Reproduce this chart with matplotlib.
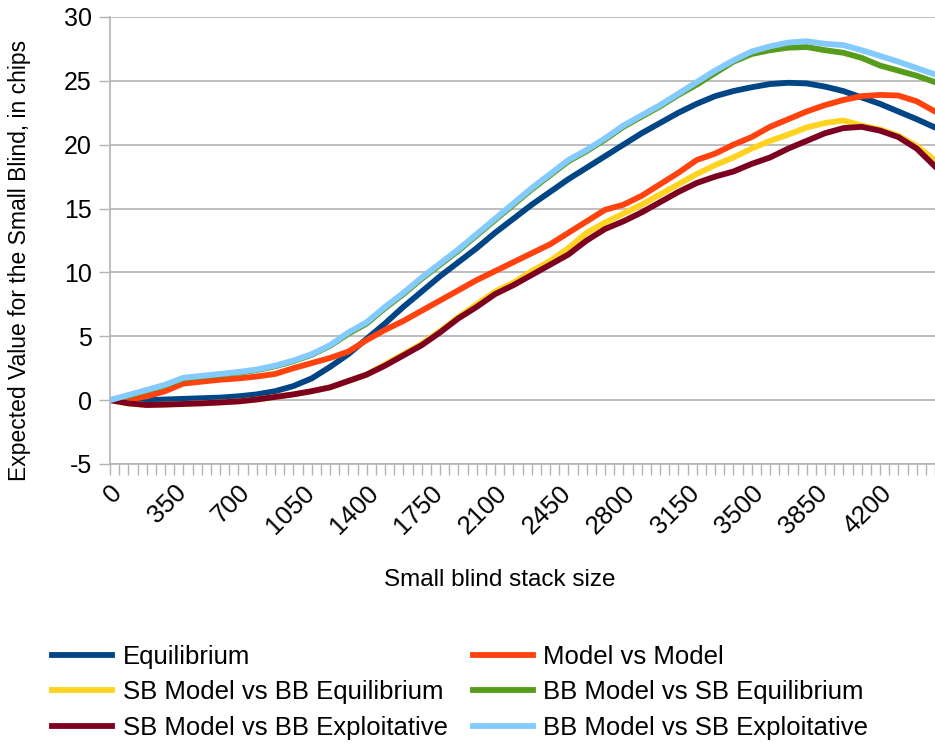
import matplotlib
matplotlib.use("Agg")
import matplotlib.pyplot as plt
import matplotlib.transforms as mtransforms
from matplotlib.ticker import MultipleLocator
import numpy as np

plt.rcParams['font.family'] = ['Liberation Sans', 'DejaVu Sans']
plt.rcParams['axes.unicode_minus'] = False

# small blind stack size, sampled every 100 chips
stack = list(range(0, 4600, 100))

equilibrium = [0.0, 0.0, 0.0, 0.05, 0.1, 0.15, 0.2, 0.3, 0.45, 0.7,
               1.1, 1.7, 2.6, 3.6, 4.8, 6.0, 7.3, 8.5, 9.7, 10.8,
               11.9, 13.1, 14.2, 15.3, 16.3, 17.3, 18.2, 19.1, 20.0, 20.9,
               21.7, 22.5, 23.2, 23.8, 24.2, 24.5, 24.75, 24.85, 24.8, 24.55,
               24.2, 23.7, 23.2, 22.6, 22.0, 21.35]

model_vs_model = [0.0, 0.05, 0.3, 0.7, 1.3, 1.45, 1.6, 1.7, 1.85, 2.05,
                  2.5, 2.9, 3.3, 3.8, 4.7, 5.5, 6.2, 7.0, 7.8, 8.6,
                  9.4, 10.1, 10.8, 11.5, 12.2, 13.1, 14.0, 14.9, 15.3, 16.0,
                  16.9, 17.8, 18.8, 19.3, 20.0, 20.6, 21.4, 22.0, 22.6, 23.1,
                  23.5, 23.8, 23.9, 23.85, 23.4, 22.6]

sb_model_bb_eq = [0.0, -0.25, -0.38, -0.35, -0.3, -0.25, -0.18, -0.1, 0.05, 0.25,
                  0.45, 0.7, 1.0, 1.5, 2.0, 2.8, 3.6, 4.4, 5.4, 6.5,
                  7.5, 8.5, 9.2, 10.1, 10.9, 11.9, 13.1, 13.9, 14.6, 15.3,
                  16.1, 16.9, 17.7, 18.4, 19.0, 19.7, 20.3, 20.8, 21.35, 21.7,
                  21.9, 21.5, 21.2, 20.7, 19.9, 18.8]

bb_model_sb_eq = [0.0, 0.35, 0.75, 1.15, 1.7, 1.85, 2.0, 2.15, 2.35, 2.65,
                  3.05, 3.55, 4.25, 5.2, 6.0, 7.2, 8.3, 9.5, 10.6, 11.7,
                  12.9, 14.1, 15.3, 16.5, 17.6, 18.7, 19.5, 20.4, 21.4, 22.2,
                  23.0, 23.9, 24.7, 25.6, 26.5, 27.1, 27.4, 27.6, 27.65, 27.4,
                  27.2, 26.8, 26.2, 25.8, 25.4, 24.9]

sb_model_bb_expl = [0.0, -0.25, -0.38, -0.35, -0.3, -0.25, -0.18, -0.1, 0.05, 0.25,
                    0.45, 0.7, 1.0, 1.5, 2.0, 2.7, 3.5, 4.3, 5.3, 6.4,
                    7.3, 8.3, 9.0, 9.8, 10.6, 11.4, 12.5, 13.4, 14.0, 14.7,
                    15.5, 16.3, 17.0, 17.5, 17.9, 18.5, 19.0, 19.7, 20.3, 20.9,
                    21.3, 21.4, 21.1, 20.6, 19.7, 18.3]

bb_model_sb_expl = [0.0, 0.4, 0.8, 1.2, 1.75, 1.9, 2.05, 2.2, 2.4, 2.7,
                    3.1, 3.6, 4.3, 5.3, 6.1, 7.3, 8.4, 9.6, 10.7, 11.8,
                    13.0, 14.2, 15.4, 16.6, 17.7, 18.8, 19.6, 20.5, 21.5, 22.3,
                    23.1, 24.0, 24.9, 25.8, 26.6, 27.3, 27.7, 28.0, 28.1, 27.9,
                    27.8, 27.4, 26.95, 26.5, 26.0, 25.5]

series = [
    ("Equilibrium", equilibrium, "#004586"),
    ("Model vs Model", model_vs_model, "#ff420e"),
    ("SB Model vs BB Equilibrium", sb_model_bb_eq, "#ffd320"),
    ("BB Model vs SB Equilibrium", bb_model_sb_eq, "#579d1c"),
    ("SB Model vs BB Exploitative", sb_model_bb_expl, "#7e0021"),
    ("BB Model vs SB Exploitative", bb_model_sb_expl, "#83caff"),
]

GRID = '#b3b3b3'

fig = plt.figure(figsize=(9.35, 7.47), dpi=100)
ax = fig.add_axes([110 / 935, 1 - 464 / 747, 825 / 935, 447 / 747])

for name, vals, col in series:
    ax.plot(stack, vals, color=col, lw=4.2, label=name, solid_joinstyle='round')

ax.set_xlim(0, 4500)
ax.set_ylim(-5, 30)
ax.yaxis.set_major_locator(MultipleLocator(5))
ax.xaxis.set_major_locator(MultipleLocator(350))
ax.xaxis.set_minor_locator(MultipleLocator(50))
ax.grid(axis='y', color=GRID, lw=1.2)
ax.set_axisbelow(True)

for s in ['top', 'right']:
    ax.spines[s].set_visible(False)
for s in ['left', 'bottom']:
    ax.spines[s].set_color(GRID)
    ax.spines[s].set_linewidth(1.2)

ax.tick_params(axis='both', which='both', direction='out', length=8, width=1, color=GRID)
ax.tick_params(axis='y', labelsize=18, pad=5)
ax.tick_params(axis='x', labelsize=18.5, pad=10)
shift = mtransforms.ScaledTranslation(8 / 100, 0, fig.dpi_scale_trans)
for lab in ax.get_xticklabels():
    lab.set_rotation(45)
    lab.set_rotation_mode('anchor')
    lab.set_ha('right')
    lab.set_va('center')
    lab.set_transform(lab.get_transform() + shift)

fig.text(500 / 935, 1 - 580 / 747, "Small blind stack size", ha='center', va='center', fontsize=17.5)
fig.text(20 / 935, 1 - 260 / 747, "Expected Value for the Small Blind, in chips",
         ha='center', va='center', rotation=90, fontsize=16.5)

# legend filled row by row, like the original
handles, labels = ax.get_legend_handles_labels()
order = [0, 2, 4, 1, 3, 5]
fig.legend([handles[i] for i in order], [labels[i] for i in order], ncol=2,
           loc='upper left', bbox_to_anchor=(52 / 935, 1 - 645 / 747),
           frameon=False, fontsize=18.5, handlelength=2.35, handletextpad=0.4,
           columnspacing=0.97, labelspacing=0.44, borderpad=0, borderaxespad=0)

fig.savefig("out.png", dpi=100)
